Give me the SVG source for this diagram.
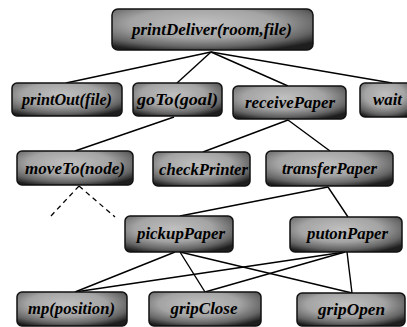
<svg xmlns="http://www.w3.org/2000/svg" width="407" height="327" viewBox="0 0 407 327">
<defs>
<radialGradient id="g" cx="0.45" cy="0.35" r="0.72">
<stop offset="0" stop-color="#c0c0c0"/>
<stop offset="0.5" stop-color="#a4a4a4"/>
<stop offset="0.8" stop-color="#646464"/>
<stop offset="1" stop-color="#1e1e1e"/>
</radialGradient>
<style>
.b{fill:url(#g);stroke:#111;stroke-width:1.5}
.t{font-family:"Liberation Serif","Times New Roman",serif;font-weight:bold;font-style:italic;font-size:17px;fill:#000;text-anchor:middle}
.c{stroke:#000;stroke-width:1.4;fill:none}
.d{stroke:#000;stroke-width:1.3;fill:none;stroke-dasharray:5,4}
</style>
</defs>
<rect width="407" height="327" fill="#fff"/>
<g id="connectors">
<line class="c" x1="211" y1="52" x2="66" y2="83"/>
<line class="c" x1="211" y1="52" x2="177" y2="83"/>
<line class="c" x1="211" y1="52" x2="288" y2="86"/>
<line class="c" x1="211" y1="52" x2="392" y2="83"/>
<line class="c" x1="174" y1="117" x2="75" y2="151"/>
<line class="c" x1="288" y1="120" x2="203" y2="152"/>
<line class="c" x1="288" y1="120" x2="330" y2="151"/>
<line class="c" x1="328" y1="187" x2="180" y2="216"/>
<line class="c" x1="328" y1="187" x2="348" y2="217"/>
<line class="d" x1="79" y1="186" x2="50" y2="217"/>
<line class="d" x1="79" y1="186" x2="115" y2="217"/>
<line class="c" x1="175" y1="252" x2="75" y2="292"/>
<line class="c" x1="180" y1="252" x2="205" y2="292"/>
<line class="c" x1="180" y1="252" x2="352" y2="293"/>
<line class="c" x1="345" y1="252" x2="75" y2="292"/>
<line class="c" x1="345" y1="252" x2="205" y2="292"/>
<line class="c" x1="347" y1="252" x2="352" y2="293"/>
</g>
<g id="printDeliver"><rect class="b" x="112" y="9" width="201" height="41" rx="6"/><text class="t" x="212" y="35" textLength="160" lengthAdjust="spacingAndGlyphs">printDeliver(room,file)</text></g>
<g id="printOut"><rect class="b" x="12" y="83" width="110" height="33" rx="5"/><text class="t" x="67" y="105" textLength="90" lengthAdjust="spacingAndGlyphs">printOut(file)</text></g>
<g id="goTo"><rect class="b" x="133" y="83" width="89" height="33" rx="5"/><text class="t" x="177.5" y="105" textLength="81" lengthAdjust="spacingAndGlyphs">goTo(goal)</text></g>
<g id="receivePaper"><rect class="b" x="233" y="86" width="113" height="33" rx="5"/><text class="t" x="290" y="108" textLength="90" lengthAdjust="spacingAndGlyphs">receivePaper</text></g>
<g id="wait"><rect class="b" x="360" y="83" width="55" height="34" rx="5"/><text class="t" x="387.5" y="105" textLength="29" lengthAdjust="spacingAndGlyphs">wait</text></g>
<g id="moveTo"><rect class="b" x="17" y="151" width="116" height="34" rx="5"/><text class="t" x="75" y="174" textLength="100" lengthAdjust="spacingAndGlyphs">moveTo(node)</text></g>
<g id="checkPrinter"><rect class="b" x="153" y="152" width="97" height="34" rx="5"/><text class="t" x="203.5" y="175" textLength="89" lengthAdjust="spacingAndGlyphs">checkPrinter</text></g>
<g id="transferPaper"><rect class="b" x="266" y="151" width="127" height="35" rx="5"/><text class="t" x="329.5" y="174" textLength="95" lengthAdjust="spacingAndGlyphs">transferPaper</text></g>
<g id="pickupPaper"><rect class="b" x="125" y="216" width="108" height="36" rx="5"/><text class="t" x="181" y="239" textLength="88" lengthAdjust="spacingAndGlyphs">pickupPaper</text></g>
<g id="putonPaper"><rect class="b" x="290" y="217" width="112" height="35" rx="5"/><text class="t" x="347.5" y="239" textLength="81" lengthAdjust="spacingAndGlyphs">putonPaper</text></g>
<g id="mp"><rect class="b" x="17" y="292" width="110" height="34" rx="5"/><text class="t" x="71.5" y="314" textLength="87" lengthAdjust="spacingAndGlyphs">mp(position)</text></g>
<g id="gripClose"><rect class="b" x="149" y="292" width="112" height="34" rx="5"/><text class="t" x="204" y="314" textLength="67" lengthAdjust="spacingAndGlyphs">gripClose</text></g>
<g id="gripOpen"><rect class="b" x="297" y="293" width="108" height="33" rx="5"/><text class="t" x="351.5" y="315" textLength="67" lengthAdjust="spacingAndGlyphs">gripOpen</text></g>
</svg>
